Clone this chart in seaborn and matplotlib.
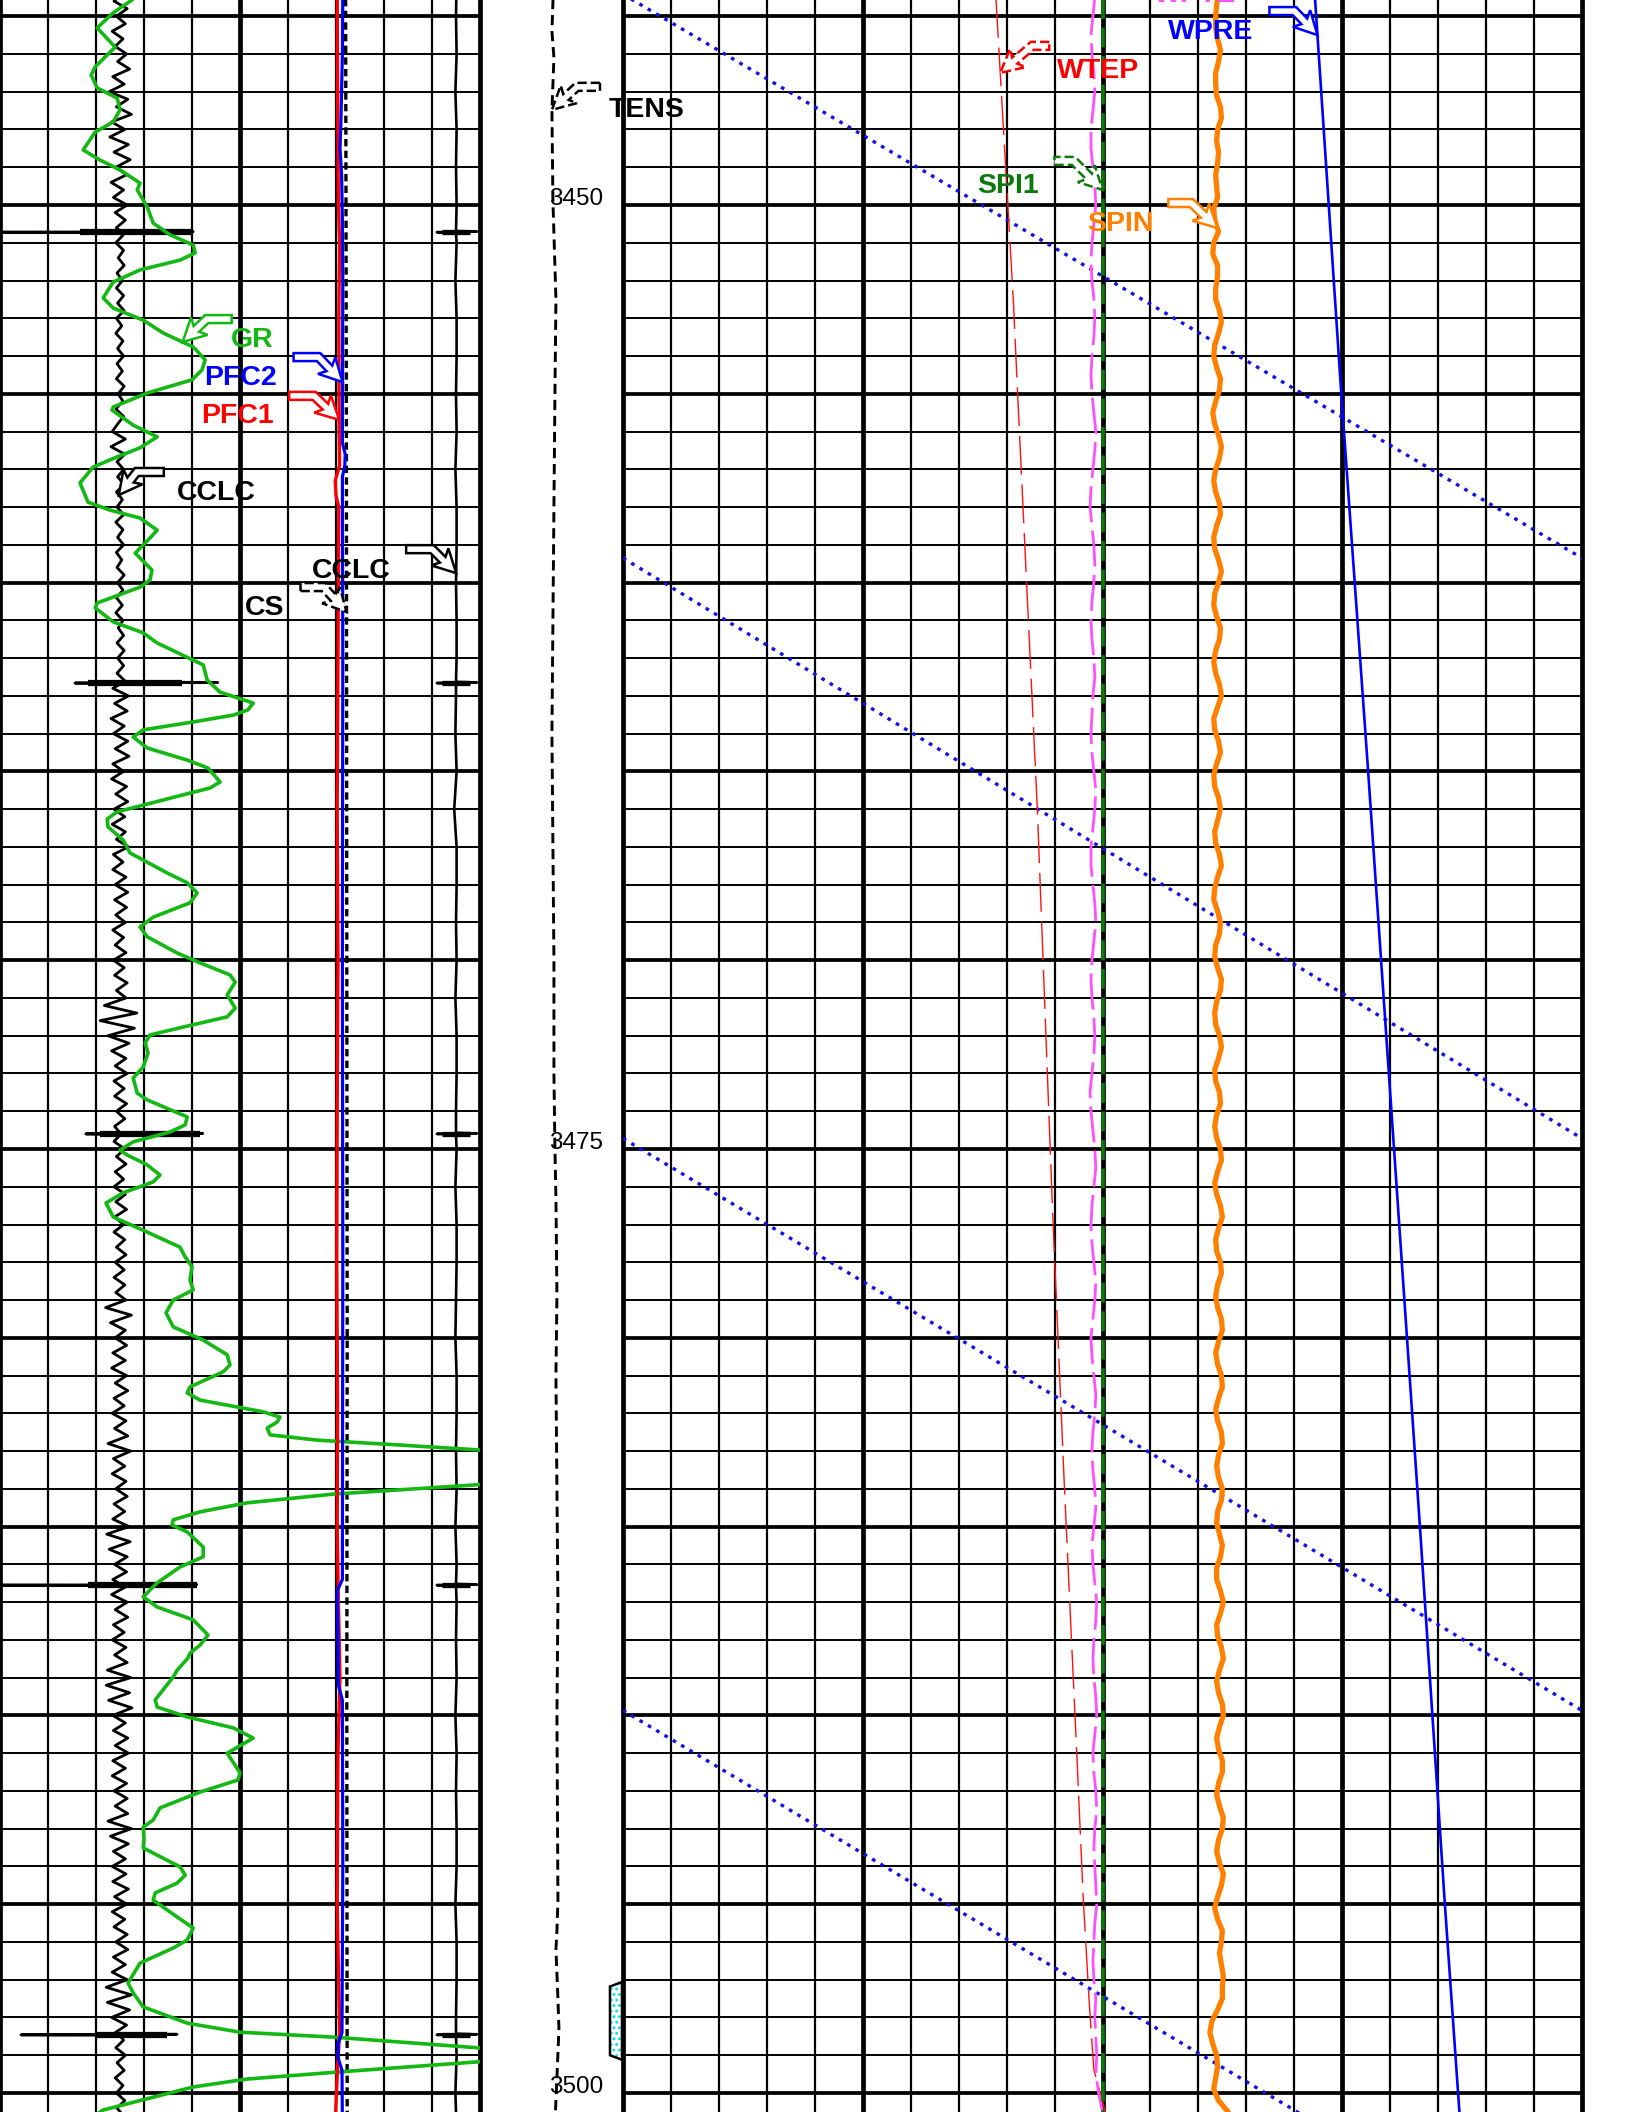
import numpy as np
import matplotlib
matplotlib.use("Agg")
import matplotlib.pyplot as plt
from matplotlib.patches import Polygon
import seaborn as sns

# ---------------------------------------------------------------- log data
# Gamma ray (depth m, gAPI), plotted on a 0-120 scale
gr_log = [
    (3444.31, 35.0), (3444.57, 33.0), (3444.91, 28.3), (3445.31, 24.3), (3445.82, 28.8),
    (3446.34, 23.8), (3446.56, 22.8), (3446.90, 24.3), (3447.17, 29.3), (3447.48, 30.0),
    (3447.80, 28.3), (3448.07, 23.8), (3448.54, 20.8), (3448.81, 25.0), (3449.07, 30.0),
    (3449.42, 35.0), (3449.60, 34.3), (3450.05, 36.8), (3450.48, 38.3), (3450.79, 42.5),
    (3451.06, 48.3), (3451.27, 48.8), (3451.46, 45.0), (3451.72, 35.0), (3452.04, 28.3),
    (3452.46, 25.8), (3452.73, 28.3), (3453.05, 35.8), (3453.39, 40.8), (3453.76, 48.3),
    (3454.10, 51.3), (3454.37, 50.5), (3454.63, 48.0), (3454.98, 36.8), (3455.35, 28.3),
    (3455.43, 28.0), (3455.83, 33.3), (3456.14, 39.3), (3456.43, 35.0), (3456.67, 29.3),
    (3456.94, 23.3), (3457.36, 20.0), (3457.87, 22.0), (3458.08, 27.5), (3458.29, 35.0),
    (3458.61, 39.3), (3458.82, 37.5), (3459.22, 33.8), (3459.67, 38.0), (3459.93, 37.5),
    (3460.12, 35.0), (3460.54, 24.3), (3460.67, 23.8), (3461.04, 28.3), (3461.33, 35.8),
    (3461.60, 39.3), (3462.18, 50.8), (3462.58, 51.8), (3462.90, 55.0), (3463.19, 63.3),
    (3463.37, 62.0), (3463.51, 58.3), (3463.69, 48.3), (3463.90, 35.8), (3464.09, 33.3),
    (3464.38, 36.8), (3464.70, 46.8), (3464.91, 52.0), (3465.28, 55.0), (3465.44, 52.5),
    (3465.62, 45.8), (3466.07, 29.3), (3466.26, 26.8), (3466.47, 27.0), (3466.82, 30.8),
    (3467.16, 32.5), (3467.69, 41.8), (3467.95, 46.8), (3468.22, 49.3), (3468.48, 47.5),
    (3468.86, 38.3), (3469.12, 35.0), (3469.38, 36.8), (3469.81, 44.3), (3470.07, 50.0),
    (3470.39, 57.5), (3470.58, 58.8), (3470.92, 56.8), (3471.27, 58.8), (3471.50, 56.8),
    (3471.77, 45.8), (3471.98, 37.5), (3472.19, 36.3), (3472.46, 37.0), (3472.83, 35.8),
    (3473.12, 33.3), (3473.52, 34.3), (3473.70, 36.8), (3474.15, 46.8), (3474.36, 46.3),
    (3474.55, 42.5), (3474.81, 33.3), (3475.03, 30.0), (3475.16, 31.8), (3475.42, 36.8),
    (3475.69, 40.0), (3475.87, 38.3), (3476.16, 30.8), (3476.43, 26.5), (3476.80, 28.3),
    (3477.20, 36.8), (3477.60, 45.0), (3477.86, 46.3), (3478.12, 48.0), (3478.47, 47.5),
    (3478.73, 48.3), (3479.00, 43.3), (3479.34, 41.5), (3479.71, 43.3), (3480.06, 50.8),
    (3480.45, 56.8), (3480.72, 57.5), (3480.90, 55.8), (3481.30, 47.5), (3481.46, 46.8),
    (3481.65, 50.0), (3481.96, 65.8), (3482.10, 70.0), (3482.23, 69.3), (3482.39, 66.8),
    (3482.57, 67.5), (3482.71, 79.3), (3482.84, 100.0), (3483.42, 188.0), (3484.14, 83.3),
    (3484.37, 61.8), (3484.61, 50.0), (3484.82, 43.3), (3484.96, 43.0), (3485.14, 46.8),
    (3485.54, 50.8), (3485.80, 50.8), (3486.07, 45.0), (3486.49, 39.3), (3486.86, 35.8),
    (3487.13, 39.3), (3487.47, 48.3), (3487.87, 52.0), (3488.14, 50.0), (3488.35, 47.5),
    (3488.48, 47.0), (3488.80, 44.3), (3488.98, 43.3), (3489.59, 38.8), (3489.78, 39.3),
    (3490.04, 46.8), (3490.33, 58.3), (3490.60, 63.3), (3491.00, 56.8), (3491.52, 60.0),
    (3491.71, 59.5), (3492.03, 50.0), (3492.45, 40.0), (3492.77, 38.3), (3492.96, 35.8),
    (3493.30, 36.0), (3493.51, 35.8), (3493.70, 39.3), (3494.01, 45.0), (3494.23, 46.3),
    (3494.44, 44.3), (3494.70, 38.8), (3494.89, 38.3), (3495.34, 44.3), (3495.63, 48.3),
    (3495.95, 46.8), (3496.16, 43.3), (3496.56, 35.0), (3497.09, 32.0), (3497.35, 33.3),
    (3497.72, 35.8), (3498.15, 46.8), (3498.39, 60.0), (3498.52, 83.3), (3498.99, 143.5),
    (3499.44, 85.0), (3499.63, 61.8), (3499.84, 48.3), (3500.45, 25.8), (3500.84, 20.0),
]

# Casing collar locator (scale -20..60), one reading every 0.2 m
ccl_top, ccl_base = 3444.4, 3500.6
ccl_left = [
    0.4, -1.0, 1.2, -0.6, 0.9, -1.3, 0.5, -0.8, 1.1, -0.4,
    1.6, -1.2, 0.7, -1.8, 1.3, -0.6, 1.9, -1.4, 0.8, -1.7,
    1.4, -1.0, 1.7, -0.7, 1.1, -1.5, 0.6, -1.1, 1.2, -0.8,
    0.9, -0.6, 0.5, -0.7, 0.6, -0.3, 0.7, -0.5, 0.4, -0.6,
    0.6, -0.4, 0.7, -0.6, 0.3, -0.7, 0.5, -0.4, 0.6, -0.5,
    0.4, -0.6, 0.7, -0.3, 0.5, -0.7, 0.6, -0.4, -1.3, 0.9,
    -1.5, 0.8, -0.5, 0.6, -0.4, 0.7, -0.6, 0.4, -0.5, 0.6,
    -0.7, 0.5, -0.4, 0.6, -0.6, 0.3, -0.5, 0.7, -0.4, 0.5,
    -0.6, 0.4, -0.7, 0.5, -0.3, 0.6, -0.5, 0.7, -0.4, 0.6,
    -0.5, 0.8, -1.2, 1.4, -0.9, 1.2, -1.5, 0.7, -1.1, 1.3,
    -0.8, 1.5, -1.2, 0.6, -1.4, 1.1, -0.7, 1.3, -1.0, 0.8,
    -1.3, 0.9, -0.6, 1.4, -1.1, 0.5, -1.2, 1.0, -0.8, 1.3,
    -0.9, 1.1, -0.7, 0.9, -1.2, 0.6, -0.8, 1.0, -1.1, 0.7,
    -0.9, 1.2, -0.6, 1.0, -2.6, 2.8, -3.3, 2.4, -2.0, 1.5,
    -1.4, 1.0, -0.8, 1.2, -1.0, 0.7, -0.9, 1.1, -0.6, 0.8,
    -0.9, 0.7, -1.0, 0.8, -0.6, 1.0, -0.8, 0.6, -1.0, 0.9,
    -0.7, 1.1, -0.9, 0.6, -1.0, 0.8, -0.6, 1.0, -0.8, 0.7,
    -1.0, 0.8, -0.7, 1.0, -2.4, 1.9, -1.6, 0.9, -0.8, 1.1,
    -1.2, 0.9, -1.4, 1.1, -0.8, 1.3, -1.0, 0.7, -1.3, 1.0,
    -0.9, 1.3, -2.0, 1.8, -1.1, 0.8, -1.3, 1.0, -0.7, 1.2,
    -1.0, 0.8, -1.2, 1.5, -2.2, 1.7, -1.8, 1.2, -0.9, 1.1,
    -1.2, 0.9, -1.4, 1.2, -0.8, 1.3, -1.1, 0.7, -1.3, 1.0,
    -0.9, 1.2, -2.1, 1.8, -2.3, 1.6, -1.9, 2.0, -1.2, 0.9,
    -1.1, 1.3, -0.8, 1.4, -1.2, 0.9, -1.3, 1.1, -1.0, 1.2,
    -0.8, 1.3, -2.0, 1.9, -1.6, 1.4, -1.1, 0.9, -1.3, 1.0,
    -1.2, 1.4, -0.9, 1.1, -1.3, 0.8, -1.0, 1.2, -0.7, 1.3,
    -1.1, 0.9, -1.3, 1.2, -2.3, 1.9, -2.1, 1.6, -1.4, 1.1,
    -0.8, 0.6, -0.7, 0.9, -0.5, 0.7, -0.8, 0.5, -0.6, 0.8,
    -0.5, 0.6,
]
collar_depth = [3450.72, 3462.66, 3474.60, 3486.55, 3498.46]
kick_left = [-20.0, -7.5, -5.7, -20.0, -16.5]
kick_right = [12.2, 16.3, 13.8, 12.8, 9.5]
kick_core_left = [-6.7, -5.3, -3.3, -5.3, -3.8]
kick_core_right = [12.2, 10.3, 13.3, 12.8, 7.8]

# Second collar trace (scale -76..4), one reading per metre from 3444 m
ccl2_top = 3444.0
ccl_right = [
    0.1, 0.0, 0.1, -0.1, 0.1, 0.0, 0.1, 0.1, -0.1, 0.1,
    0.1, 0.0, 0.1, -0.1, 0.1, 0.1, 0.0, 0.1, 0.1, 0.0,
    -0.1, 0.1, -0.3, 0.1, 0.1, 0.0, 0.1, -0.1, 0.1, 0.1,
    0.0, 0.1, -0.1, 0.1, 0.1, 0.0, -0.1, 0.1, 0.1, 0.0,
    0.1, -0.1, 0.1, 0.1, 0.0, 0.1, -0.1, 0.1, 0.0, 0.1,
    0.1, -0.1, 0.1, 0.1, 0.0, 0.1, -0.1, 0.1,
]
ccl2_kick = (-3.2, 3.5)
ccl2_core = (-2.3, 2.3)

# Flow-meter channels and cable speed (0-120 scale)
pfc1_log = [
    (3444.3, 84.3), (3447.0, 84.4), (3450.0, 84.6), (3451.0, 84.9), (3453.0, 84.7),
    (3456.0, 84.8), (3456.9, 84.9), (3457.3, 83.8), (3457.7, 84.0), (3458.0, 84.7),
    (3462.0, 84.5), (3466.0, 84.3), (3470.0, 84.5), (3474.0, 84.3), (3478.0, 84.2),
    (3482.0, 84.4), (3485.0, 84.3), (3487.0, 84.6), (3489.0, 85.0), (3491.0, 84.5),
    (3495.0, 84.3), (3498.4, 84.9), (3499.3, 84.4), (3500.8, 83.8),
]
pfc2_log = [
    (3444.3, 85.7), (3446.0, 85.6), (3447.9, 85.2), (3448.5, 85.0), (3449.2, 85.4),
    (3450.4, 85.6), (3452.0, 85.7), (3456.3, 85.6), (3456.6, 86.3), (3456.9, 86.2),
    (3457.2, 85.6), (3462.0, 85.7), (3470.0, 85.6), (3478.0, 85.7), (3486.4, 85.6),
    (3486.7, 84.3), (3488.0, 84.5), (3489.2, 84.6), (3489.6, 85.6), (3494.0, 85.7),
    (3498.4, 85.5), (3498.7, 84.5), (3499.1, 84.6), (3499.4, 85.5), (3500.8, 85.6),
]
cs_log = [
    (3444.3, 86.4), (3450.0, 86.5), (3456.0, 86.6), (3470.0, 86.7), (3480.0, 86.8),
    (3490.0, 86.7), (3500.8, 86.8),
]

# Cable tension, depth track (0-100 scale)
tens_log = [
    (3444.3, 51.3), (3445.4, 50.3), (3446.1, 51.7), (3447.5, 50.3), (3449.9, 51.0),
    (3452.5, 53.1), (3455.0, 52.4), (3458.0, 51.7), (3461.0, 51.0), (3464.0, 50.3),
    (3467.0, 51.0), (3470.0, 51.7), (3473.0, 51.7), (3475.0, 52.4), (3476.3, 53.1),
    (3478.9, 53.8), (3481.0, 53.1), (3484.0, 53.8), (3487.0, 54.5), (3490.0, 53.8),
    (3494.9, 54.5), (3495.7, 53.8), (3496.2, 53.1), (3497.5, 54.5), (3498.3, 55.2),
    (3499.6, 53.8), (3500.8, 52.4),
]

# Right track curves (0-100 scale)
wtep_log = [
    (3444.3, 38.6), (3444.57, 38.9), (3452.52, 40.7), (3455.27, 41.2), (3465.97, 43.2),
    (3476.67, 44.8), (3483.79, 46.0), (3490.92, 47.3), (3494.89, 48.0), (3497.54, 48.6),
    (3499.39, 49.1), (3500.5, 50.3), (3500.8, 50.6),
]
wpre_log = [
    (3444.3, 72.1), (3455.0, 74.9), (3465.0, 77.7), (3475.0, 80.4), (3485.0, 83.1),
    (3495.0, 85.7), (3500.8, 87.3),
]
spi1_log = [(3444.3, 50.0), (3500.8, 50.0)]

spin_top, spin_base = 3444.4, 3500.5
spin = [
    62.1, 61.9, 61.8, 61.8, 62.0, 62.3, 62.1, 61.8, 61.8, 61.9,
    62.3, 62.4, 62.0, 61.9, 62.1, 62.0, 61.8, 61.9, 62.0, 61.6,
    61.7, 62.1, 61.6, 61.5, 62.0, 62.0, 61.8, 61.8, 62.2, 62.4,
    62.1, 61.7, 61.6, 61.9, 62.3, 62.2, 61.8, 61.5, 61.7, 62.1,
    62.4, 62.2, 61.8, 61.6, 61.8, 62.2, 62.3, 61.9, 61.6, 61.7,
    62.1, 62.4, 62.1, 61.7, 61.6, 61.9, 62.3, 62.2, 61.8, 61.6,
    61.8, 62.2, 62.4, 62.0, 61.6, 61.7, 62.1, 62.3, 61.9, 61.6,
    61.7, 62.1, 62.3, 62.0, 61.7, 61.8, 62.2, 62.4, 62.0, 61.7,
    61.6, 62.0, 62.3, 62.2, 61.8, 61.7, 62.0, 62.4, 62.3, 61.9,
    61.7, 61.8, 62.2, 62.4, 62.1, 61.7, 61.8, 62.2, 62.3, 61.9,
    61.7, 61.9, 62.3, 62.4, 62.0, 61.7, 61.9, 62.3, 62.5, 62.1,
    61.8, 61.9, 62.3, 62.4, 62.0, 61.8, 62.0, 62.4, 62.5, 62.1,
    61.8, 62.0, 62.4, 62.5, 62.1, 61.8, 62.0, 62.4, 62.5, 62.1,
    61.9, 62.1, 62.5, 62.4, 62.0, 61.9, 62.2, 62.5, 62.3, 61.9,
    61.9, 62.3, 62.6, 62.3, 61.9, 62.0, 62.4, 62.6, 62.2, 61.9,
    62.1, 62.5, 62.6, 62.2, 61.9, 62.1, 62.5, 62.5, 62.1, 61.9,
    62.2, 62.6, 62.5, 62.1, 61.9, 62.2, 62.6, 62.4, 62.0, 61.7,
    62.0, 62.5, 62.4, 62.2, 62.4, 62.6, 62.5, 62.5, 62.0, 61.4,
    61.2, 61.5, 61.9, 62.0, 61.8, 61.6, 62.1, 63.1,
]

wpte_top, wpte_base = 3444.5, 3500.5
wpte = [
    49.2, 49.0, 48.8, 48.9, 49.1, 49.2, 49.0, 48.8, 48.8, 49.0,
    49.2, 49.3, 49.1, 48.9, 48.8, 48.9, 49.1, 49.2, 49.1, 48.9,
    48.8, 48.9, 49.1, 49.3, 49.2, 49.0, 48.8, 48.7, 48.9, 49.1,
    49.2, 49.1, 48.9, 48.8, 48.9, 49.1, 49.2, 49.0, 48.9, 48.8,
    48.9, 49.1, 49.3, 49.2, 49.0, 48.8, 48.8, 49.0, 49.2, 49.3,
    49.1, 48.9, 48.8, 48.9, 49.1, 49.2, 49.1, 48.9, 48.7, 48.8,
    49.0, 49.2, 49.3, 49.1, 48.9, 48.8, 48.9, 49.1, 49.3, 49.2,
    49.0, 48.8, 48.9, 49.1, 49.3, 49.2, 49.0, 48.9, 49.0, 49.2,
    49.3, 49.1, 48.9, 49.0, 49.2, 49.4, 49.3, 49.1, 49.0, 49.1,
    49.3, 49.4, 49.2, 49.0, 49.1, 49.3, 49.4, 49.2, 49.1, 49.2,
    49.3, 49.4, 49.2, 49.1, 49.0, 49.1, 49.3, 49.2, 49.3, 49.4,
    49.3, 49.6, 50.0,
]

# Wrapped backup trace: cumulative reading, wraps every 100 units
backup_log = [
    (3444.3, -0.8), (3450.0, 37.4), (3459.35, 100.0), (3474.72, 200.0),
    (3489.87, 300.0), (3495.82, 339.3), (3500.8, 372.3),
]

# Perforated interval
perf_top, perf_bottom = 3497.06, 3499.12

depth_marks = [3450, 3475, 3500]

# ---------------------------------------------------------------- layout
W, H, DPI = 1628, 2112, 100
TOP, BASE = 3444.571, 3500.503

sns.set_style("white")
plt.rcParams["font.family"] = ["Liberation Sans", "DejaVu Sans"]
plt.rcParams["hatch.linewidth"] = 1.3

fig = plt.figure(figsize=(W / DPI, H / DPI), dpi=DPI)


def make_track(x0, x1):
    ax = fig.add_axes([x0 / W, 0.0, (x1 - x0) / W, 1.0])
    ax.axis("off")
    return ax


ax_l = make_track(0, 480)
ax_d = make_track(480, 623)
ax_r = make_track(623, 1582)


def grid(ax, n_div, xmax):
    step = xmax / n_div
    for i in range(n_div + 1):
        ax.axvline(i * step, color="black", lw=3.4 if i % 5 == 0 else 1.6,
                   zorder=1, clip_on=False)
    for d in range(3445, 3501):
        ax.axhline(d, color="black", lw=2.7 if d % 5 == 0 else 1.4, zorder=1)


grid(ax_l, 10, 120.0)
grid(ax_r, 20, 100.0)


def curve(ax, depth, value, color, lw, ls="-", z=3):
    sns.lineplot(x=np.asarray(value, float), y=np.asarray(depth, float), ax=ax,
                 orient="y", sort=False, estimator=None, color=color,
                 linewidth=lw, linestyle=ls, zorder=z)


def split(log):
    arr = np.array(log, float)
    return arr[:, 0], arr[:, 1]


# ---- left track
to_left_ccl = lambda v: (np.asarray(v, float) + 20.0) / 80.0 * 120.0
to_right_ccl = lambda v: (np.asarray(v, float) + 76.0) / 80.0 * 120.0

d_ccl = list(np.linspace(ccl_top, ccl_base, len(ccl_left)))
v_ccl = list(ccl_left)
for d, lo, hi in zip(collar_depth, kick_left, kick_right):
    d_ccl += [d - 0.03, d - 0.015, d, d + 0.015, d + 0.03]
    v_ccl += [0.0, hi, lo, hi * 0.6, 0.0]
order = np.argsort(d_ccl)
ccl_d = np.array(d_ccl)[order]
ccl_v = np.array(v_ccl)[order]
curve(ax_l, ccl_d, to_left_ccl(ccl_v), "black", 2.0)
ax_l.hlines(collar_depth, to_left_ccl(kick_core_left), to_left_ccl(kick_core_right),
            color="black", lw=4.5, zorder=3)

d_ccl2 = list(ccl2_top + np.arange(len(ccl_right)))
v_ccl2 = list(ccl_right)
for d in collar_depth:
    d_ccl2 += [d - 0.03, d - 0.015, d, d + 0.015, d + 0.03]
    v_ccl2 += [0.0, ccl2_kick[1], ccl2_kick[0], ccl2_kick[1] * 0.5, 0.0]
order2 = np.argsort(d_ccl2)
ccl2_d = np.array(d_ccl2)[order2]
ccl2_v = np.array(v_ccl2)[order2]
curve(ax_l, ccl2_d, to_right_ccl(ccl2_v), "black", 1.9)
ax_l.hlines(collar_depth, to_right_ccl([ccl2_core[0]] * 5), to_right_ccl([ccl2_core[1]] * 5),
            color="black", lw=3.8, zorder=3)

gr_d, gr_v = split(gr_log)
curve(ax_l, gr_d, gr_v, "#13b813", 2.6, z=4)

pfc1_d, pfc1_v = split(pfc1_log)
pfc2_d, pfc2_v = split(pfc2_log)
cs_d, cs_v = split(cs_log)
curve(ax_l, cs_d, cs_v, "black", 2.4, ls=(0, (2.2, 1.3)))
curve(ax_l, pfc1_d, pfc1_v, "#ff0000", 2.4, z=4)
curve(ax_l, pfc2_d, pfc2_v, "#0000ff", 2.3, z=4)

# ---- depth track
tens_d, tens_v = split(tens_log)
curve(ax_d, tens_d, tens_v, "black", 2.1, ls=(0, (3.5, 2)))
for m in depth_marks:
    ax_d.text(48.0, m, str(m), ha="left", va="baseline", fontsize=17.5,
              color="black", zorder=5)

perf_x_out, perf_x_in, inset = 99.3, 90.9, 0.12
perf_poly = [(perf_x_out, perf_top), (perf_x_in, perf_top + inset),
             (perf_x_in, perf_bottom - inset), (perf_x_out, perf_bottom)]
ax_d.add_patch(Polygon(perf_poly, closed=True, facecolor="white", edgecolor="#00dce8",
                       hatch="...", lw=0, zorder=4))
ax_d.add_patch(Polygon(perf_poly, closed=True, fill=False, edgecolor="black",
                       lw=1.8, zorder=5))

# ---- right track
bk_d, bk_v = split(backup_log)
for k in range(4):
    sel = (bk_v >= 100 * k - 1.0) & (bk_v <= 100 * (k + 1) + 1e-9)
    if sel.sum() >= 2:
        curve(ax_r, bk_d[sel], bk_v[sel] - 100 * k, "#1010ee", 2.4, ls=(0, (1.1, 1.8)))

wtep_d, wtep_v = split(wtep_log)
curve(ax_r, wtep_d, wtep_v, "#ff1010", 1.0, ls=(0, (28, 7)))
curve(ax_r, np.linspace(wpte_top, wpte_base, len(wpte)), wpte, "#ff50ff", 2.0,
      ls=(0, (13, 3)))
spi_d, spi_v = split(spi1_log)
curve(ax_r, spi_d, spi_v, "#0b7a0b", 2.6, ls=(0, (5.5, 2.4)), z=4)
curve(ax_r, np.linspace(spin_top, spin_base, len(spin)), spin, "#ff8000", 3.8, z=4)
wpre_d, wpre_v = split(wpre_log)
curve(ax_r, wpre_d, wpre_v, "#0000ff", 1.9, z=4)

for ax, xmax in ((ax_l, 120.0), (ax_d, 100.0), (ax_r, 100.0)):
    ax.set_xlim(0, xmax)
    ax.set_ylim(BASE, TOP)
    ax.set_xlabel("")
    ax.set_ylabel("")


# ---------------------------------------------------------------- curve flags
def to_img(ax, x, d):
    px, py = ax.transData.transform((x, d))
    return np.array([px, H - py])


def flag(tip, bend_off, tail_off, color, ls="-", shaft=8.0, head_w=24.0, head_len=19.0):
    tip = np.asarray(tip, float)
    bend = tip + np.asarray(bend_off, float)
    tail = tip + np.asarray(tail_off, float)
    d1 = (bend - tail) / np.linalg.norm(bend - tail)
    d2 = (tip - bend) / np.linalg.norm(tip - bend)
    n1 = np.array([-d1[1], d1[0]])
    n2 = np.array([-d2[1], d2[0]])
    miter = (n1 + n2) / np.dot(n1 + n2, n1)
    base = tip - d2 * head_len
    h = shaft / 2
    pts = [tail + n1 * h, bend + miter * h, base + n2 * h,
           base - d2 * 4 + n2 * head_w / 2, tip, base - d2 * 4 - n2 * head_w / 2,
           base - n2 * h, bend - miter * h, tail - n1 * h]
    pts = [(x / W, 1 - y / H) for x, y in pts]
    fig.add_artist(Polygon(pts, closed=True, transform=fig.transFigure,
                           facecolor="white", edgecolor=color, lw=1.8, linestyle=ls,
                           zorder=10))


def label(text, x, y_base, color):
    fig.text(x / W, 1 - y_base / H, text, ha="center", va="baseline", fontsize=20.5,
             fontweight="bold", color=color, zorder=11)


# (label, axis, depths, values, tip depth, bend offset, tail offset, text x, text baseline, colour, style)
flags = [
    ("GR", ax_l, gr_d, gr_v, 3453.63, (24, -23), (49, -23), 252, 347, "#13b813", "-"),
    ("PFC2", ax_l, pfc2_d, pfc2_v, 3454.69, (-24, -25), (-49, -25), 241, 385, "#0000ff", "-"),
    ("PFC1", ax_l, pfc1_d, pfc1_v, 3455.69, (-25, -24), (-50, -24), 237, 423, "#ff0000", "-"),
    ("CCLC", ax_l, ccl_d, to_left_ccl(ccl_v), 3457.68, (18, -23), (45, -23), 216, 500, "black", "-"),
    ("CCLC", ax_l, ccl2_d, to_right_ccl(ccl2_v), 3459.75, (-24, -24), (-50, -24), 351, 578, "black", "-"),
    ("CS", ax_l, cs_d, cs_v, 3460.78, (-23, -25), (-46, -25), 265, 615, "black", "--"),
    ("TENS", ax_d, tens_d, tens_v, 3447.48, (25, -23), (48, -23), 647, 117, "black", "--"),
    ("WTEP", ax_r, wtep_d, wtep_v, 3446.50, (32, -27), (49, -27), 1098, 78, "#ff0000", "--"),
    ("WPRE", ax_r, wpre_d, wpre_v, 3445.50, (-23, -24), (-48, -24), 1211, 39, "#0000ff", "-"),
    ("SPI1", ax_r, spi_d, spi_v, 3449.60, (-29, -29), (-48, -29), 1008, 193, "#0b7a0b", "--"),
    ("SPIN", ax_r, np.linspace(spin_top, spin_base, len(spin)), np.array(spin), 3450.61,
     (-26, -25), (-49, -25), 1120, 231, "#ff8000", "-"),
]

for name, ax, dd, vv, tip_d, bend_off, tail_off, tx, ty, col, ls in flags:
    tip = to_img(ax, np.interp(tip_d, dd, vv), tip_d)
    flag(tip, bend_off, tail_off, col, ls)
    label(name, tx, ty, col)

# label of the magenta trace, running off the top edge
label("WPTE", 1195, 1.5, "#ff50ff")

fig.savefig("out.png", dpi=DPI, facecolor="white")
